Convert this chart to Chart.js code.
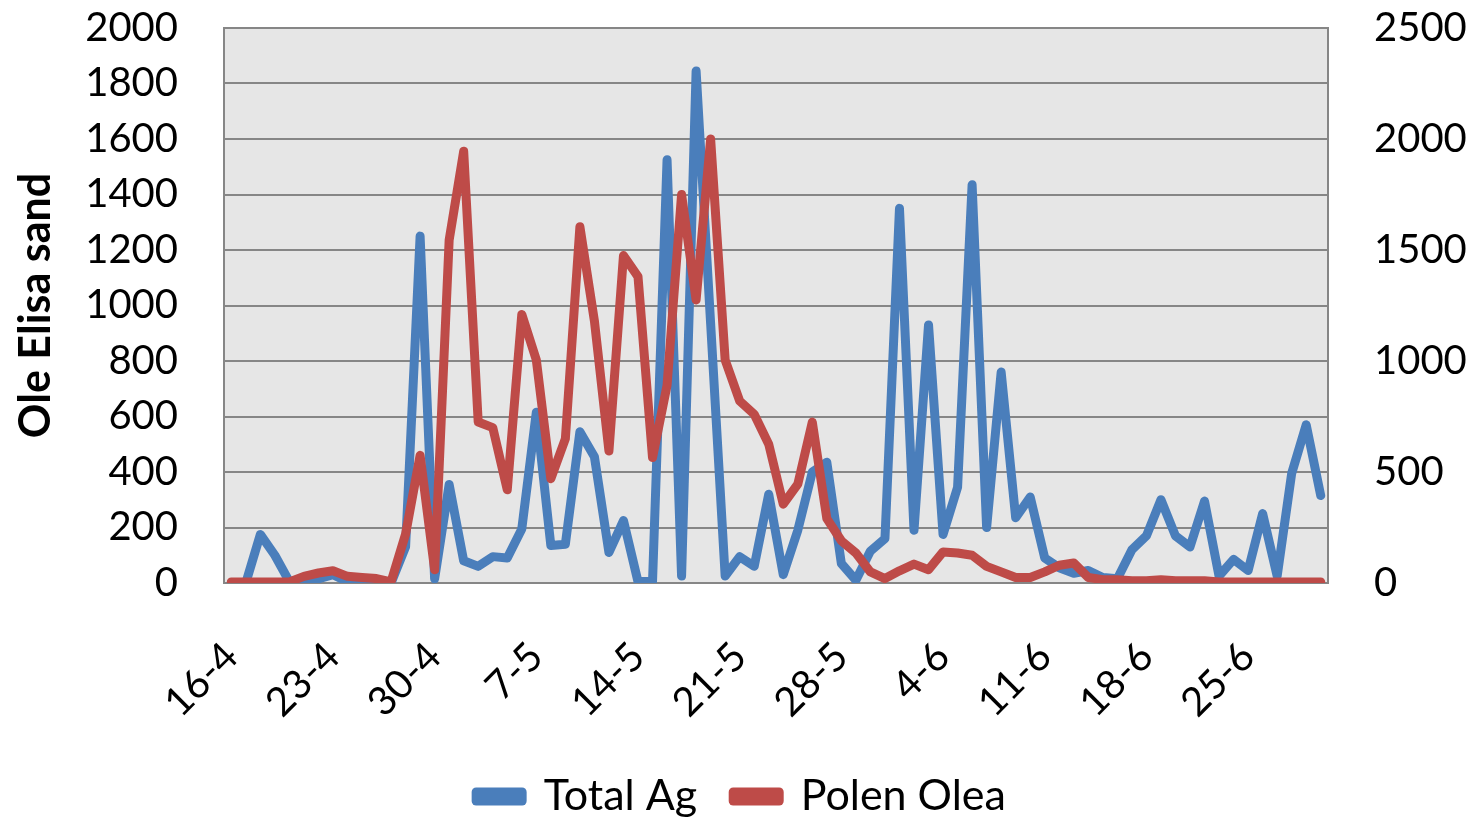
<!DOCTYPE html>
<html>
<head>
<meta charset="utf-8">
<script src="https://cdn.jsdelivr.net/npm/chart.js@4.4.0/dist/chart.umd.min.js"></script>
<style>
  html, body { margin: 0; padding: 0; background: #ffffff; }
  #wrap { width: 1482px; height: 821px; }
</style>
</head>
<body>
<div id="wrap"><canvas id="chart"></canvas></div>
<script>
// days from 16 April to 30 June
const dates = [
  '16-4','17-4','18-4','19-4','20-4','21-4','22-4','23-4','24-4','25-4','26-4','27-4','28-4','29-4','30-4',
  '1-5','2-5','3-5','4-5','5-5','6-5','7-5','8-5','9-5','10-5','11-5','12-5','13-5','14-5','15-5',
  '16-5','17-5','18-5','19-5','20-5','21-5','22-5','23-5','24-5','25-5','26-5','27-5','28-5','29-5','30-5','31-5',
  '1-6','2-6','3-6','4-6','5-6','6-6','7-6','8-6','9-6','10-6','11-6','12-6','13-6','14-6','15-6',
  '16-6','17-6','18-6','19-6','20-6','21-6','22-6','23-6','24-6','25-6','26-6','27-6','28-6','29-6','30-6'
];

// only these get printed under the axis
const tickLabels = ['16-4','23-4','30-4','7-5','14-5','21-5','28-5','4-6','11-6','18-6','25-6'];

// left axis
const totalAg = [
  0, 0, 175, 100, 5, 10, 15, 30, 5, 3, 0, 0, 130, 1250, 15,
  355, 80, 60, 95, 90, 195, 615, 135, 140, 545, 455, 110, 225, 5, 5,
  1525, 25, 1845, 935, 25, 95, 60, 320, 30, 190, 400, 435, 70, 10, 115, 160,
  1350, 190, 930, 175, 345, 1435, 200, 760, 235, 310, 90, 55, 35, 45,
  20, 15, 120, 170, 300, 170, 130, 295, 25, 85, 45, 250, 25, 395, 570, 315
];

// right axis
const polenOlea = [
  5, 5, 5, 5, 5, 30, 45, 55, 30, 25, 20, 5, 220, 575, 60,
  1545, 1945, 725, 700, 420, 1210, 1005, 470, 650, 1605, 1180, 595, 1475, 1380, 565,
  890, 1750, 1275, 2000, 1005, 820, 760, 625, 355, 445, 725, 290, 190, 135, 50, 20,
  55, 85, 60, 140, 135, 125, 75, 50, 25, 25, 50, 80, 90, 25,
  15, 15, 10, 10, 15, 10, 10, 10, 5, 5, 5, 5, 5, 5, 5, 5
];

const leftTicks = { min: 0, max: 2000, step: 200 };
const rightTicks = { min: 0, max: 2500, step: 500 };

const FONT = 'Lato, "Open Sans", sans-serif';
const GRID = '#868686';

// grey plot area like the excel original
const plotBg = {
  id: 'plotBg',
  beforeDraw(chart) {
    const { ctx, chartArea: a } = chart;
    ctx.save();
    ctx.fillStyle = '#e6e6e6';
    ctx.fillRect(a.left, a.top, a.right - a.left, a.bottom - a.top);
    ctx.restore();
  }
};

new Chart(document.getElementById('chart'), {
  type: 'line',
  data: {
    labels: dates,
    datasets: [
      {
        label: 'Total Ag',
        data: totalAg,
        yAxisID: 'y',
        borderColor: '#4a7ebb',
        backgroundColor: '#4a7ebb',
        order: 1
      },
      {
        label: 'Polen Olea',
        data: polenOlea,
        yAxisID: 'y1',
        borderColor: '#be4b48',
        backgroundColor: '#be4b48',
        order: 0
      }
    ]
  },
  options: {
    responsive: true,
    maintainAspectRatio: false,
    animation: false,
    layout: { padding: { top: 28, left: 0, right: 0, bottom: -7 } },
    elements: {
      line: { borderWidth: 9, tension: 0, borderJoinStyle: 'round', borderCapStyle: 'round', fill: false },
      point: { radius: 0, hoverRadius: 0 }
    },
    plugins: {
      tooltip: { enabled: false },
      legend: {
        position: 'bottom',
        labels: {
          color: '#000',
          font: { family: FONT, size: 43 },
          boxWidth: 46,
          boxHeight: 9,
          padding: 36,
          sort: (a, b) => a.datasetIndex - b.datasetIndex
        }
      }
    },
    scales: {
      x: {
        offset: true,
        afterFit: (s) => { s.height = 156; },
        grid: { display: false, drawTicks: false },
        border: { display: true, color: GRID, width: 2 },
        ticks: {
          autoSkip: false,
          maxRotation: 45,
          minRotation: 45,
          padding: 50,
          color: '#000',
          font: { family: FONT, size: 40 },
          callback: function (value) {
            const lab = this.getLabelForValue(value);
            return tickLabels.includes(lab) ? lab : '';
          }
        }
      },
      y: {
        position: 'left',
        min: leftTicks.min,
        max: leftTicks.max,
        afterFit: (s) => { s.width = 224; },
        // invisible tick marks keep the labels away from the axis
        grid: { color: GRID, lineWidth: 2, drawTicks: true, tickLength: 44, tickColor: 'rgba(0,0,0,0)' },
        border: { display: true, color: GRID, width: 2 },
        ticks: {
          stepSize: leftTicks.step,
          padding: 2,
          color: '#000',
          font: { family: FONT, size: 40 },
          callback: (v) => String(v)
        },
        title: {
          display: true,
          text: 'Ole Elisa sand',
          color: '#000',
          font: { family: FONT, size: 43, weight: 'bold' },
          padding: { top: 10, bottom: 0 }
        }
      },
      y1: {
        position: 'right',
        min: rightTicks.min,
        max: rightTicks.max,
        afterFit: (s) => { s.width = 154; },
        grid: { drawOnChartArea: false, drawTicks: true, tickLength: 44, tickColor: 'rgba(0,0,0,0)' },
        border: { display: true, color: GRID, width: 2 },
        ticks: {
          stepSize: rightTicks.step,
          padding: 2,
          color: '#000',
          font: { family: FONT, size: 40 },
          callback: (v) => String(v)
        }
      }
    }
  },
  plugins: [plotBg]
});
</script>
</body>
</html>
